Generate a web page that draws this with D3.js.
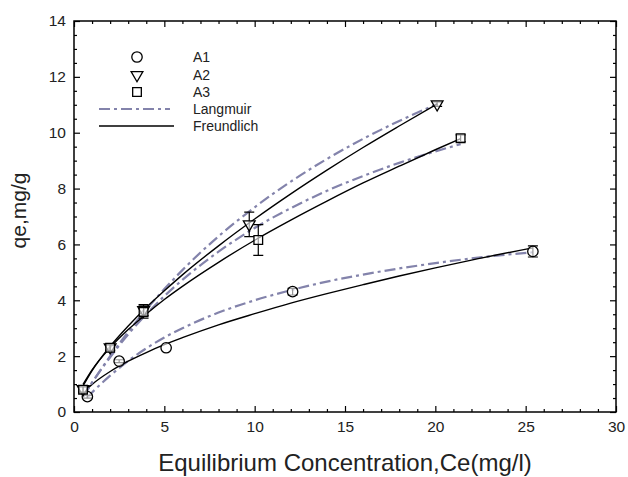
<!DOCTYPE html>
<html>
<head>
<meta charset="utf-8">
<script src="https://cdn.jsdelivr.net/npm/d3@7"></script>
<style>
  body { margin: 0; background: #fff; }
  #d3_wrapper { width: 628px; height: 477px; }
  text { font-family: "Liberation Sans", Arial, sans-serif; fill: #222; }
  .ticks text { font-size: 15.5px; }
  .ticks path.domain { display: none; }
  .ticks line { stroke: #000; stroke-width: 1.2; }
</style>
</head>
<body>
<div id="d3_wrapper"></div>
<script>
// measured points (with error bars)
const a1X = [0.74, 2.5, 5.1, 12.1, 25.4];
const a1Y = [0.55, 1.82, 2.3, 4.31, 5.75];
const a1Err = [0.05, 0.05, 0, 0.12, 0.2];

const a2X = [0.5, 2.0, 3.85, 9.7, 20.1];
const a2Y = [0.82, 2.32, 3.65, 6.72, 11.02];
const a2Err = [0.1, 0.1, 0.2, 0.44, 0.08];

const a3X = [0.5, 2.0, 3.85, 10.2, 21.4];
const a3Y = [0.8, 2.3, 3.58, 6.16, 9.8];
const a3Err = [0.1, 0.1, 0.22, 0.55, 0.12];

// fitted curves
const fitXA1 = [0.7, 1, 2, 3, 4, 5, 6, 8, 10, 12, 14, 16, 18, 20, 22, 25.4];
const langA1 = [0.5, 0.7, 1.3, 1.83, 2.28, 2.67, 3.0, 3.56, 4.0, 4.36, 4.67, 4.92, 5.14, 5.33, 5.5, 5.72];
const freuA1 = [0.82, 0.99, 1.45, 1.82, 2.13, 2.41, 2.66, 3.12, 3.52, 3.9, 4.24, 4.56, 4.87, 5.16, 5.44, 5.88];

const fitXA2 = [0.5, 1, 2, 3, 4, 5, 6, 8, 10, 12, 14, 16, 18, 20.1];
const langA2 = [0.54, 1.05, 2.0, 2.87, 3.67, 4.4, 5.08, 6.29, 7.33, 8.25, 9.06, 9.78, 10.42, 11.03];
const freuA2 = [0.93, 1.48, 2.35, 3.08, 3.74, 4.34, 4.91, 5.95, 6.91, 7.81, 8.66, 9.47, 10.24, 11.03];

const fitXA3 = [0.5, 1, 2, 3, 4, 5, 6, 8, 10, 12, 14, 16, 18, 20, 21.4];
const langA3 = [0.54, 1.05, 1.96, 2.78, 3.5, 4.15, 4.73, 5.74, 6.59, 7.3, 7.92, 8.45, 8.92, 9.33, 9.59];
const freuA3 = [0.99, 1.51, 2.3, 2.95, 3.51, 4.03, 4.5, 5.36, 6.15, 6.87, 7.55, 8.2, 8.8, 9.39, 9.79];

const xTicks = [0, 5, 10, 15, 20, 25, 30];
const yTicks = [0, 2, 4, 6, 8, 10, 12, 14];
const legendNames = ["A1", "A2", "A3", "Langmuir", "Freundlich"];

function drawGraphic() {
    const langColor = "#8383ab";
    const dashDot = "11,4,3,4";

    const margin = { top: 21, right: 12, bottom: 65, left: 74 },
        width = 628 - margin.left - margin.right,
        height = 477 - margin.top - margin.bottom;

    const svg = d3.select("#d3_wrapper").append("svg")
        .attr("width", 628)
        .attr("height", 477);

    const g = svg.append("g")
        .attr("transform", "translate(" + margin.left + "," + margin.top + ")");

    const x = d3.scaleLinear().domain([0, 30]).range([0, width]);
    const y = d3.scaleLinear().domain([0, 14]).range([height, 0]);

    const xMinor = d3.range(0, 31, 1).filter(v => v % 5 !== 0);
    const yMinor = d3.range(0, 14.01, 0.5).filter(v => v % 2 !== 0);

    // bottom + top axes
    g.append("g").attr("class", "ticks").attr("transform", "translate(0," + height + ")")
        .call(d3.axisBottom(x).tickValues(xTicks).tickSize(-6).tickPadding(9).tickFormat(d => d));
    g.append("g").attr("class", "ticks").attr("transform", "translate(0," + height + ")")
        .call(d3.axisBottom(x).tickValues(xMinor).tickSize(-3).tickFormat(""));
    g.append("g").attr("class", "ticks")
        .call(d3.axisTop(x).tickValues(xTicks).tickSize(-6).tickFormat(""));
    g.append("g").attr("class", "ticks")
        .call(d3.axisTop(x).tickValues(xMinor).tickSize(-3).tickFormat(""));

    // left + right axes
    g.append("g").attr("class", "ticks")
        .call(d3.axisLeft(y).tickValues(yTicks).tickSize(-6).tickPadding(8).tickFormat(d => d));
    g.append("g").attr("class", "ticks")
        .call(d3.axisLeft(y).tickValues(yMinor).tickSize(-3).tickFormat(""));
    g.append("g").attr("class", "ticks").attr("transform", "translate(" + width + ",0)")
        .call(d3.axisRight(y).tickValues(yTicks).tickSize(-6).tickFormat(""));
    g.append("g").attr("class", "ticks").attr("transform", "translate(" + width + ",0)")
        .call(d3.axisRight(y).tickValues(yMinor).tickSize(-3).tickFormat(""));

    // frame
    g.append("rect")
        .attr("width", width).attr("height", height)
        .attr("fill", "none").attr("stroke", "#000").attr("stroke-width", 1.5);

    // fitted lines
    const line = d3.line()
        .x(d => x(d[0]))
        .y(d => y(d[1]))
        .curve(d3.curveMonotoneX);

    const fits = [
        [fitXA1, langA1, freuA1],
        [fitXA2, langA2, freuA2],
        [fitXA3, langA3, freuA3]
    ];
    fits.forEach(([xs, lang, freu]) => {
        g.append("path")
            .attr("d", line(xs.map((v, i) => [v, lang[i]])))
            .attr("fill", "none").attr("stroke", langColor)
            .attr("stroke-width", 2.2).attr("stroke-dasharray", dashDot);
        g.append("path")
            .attr("d", line(xs.map((v, i) => [v, freu[i]])))
            .attr("fill", "none").attr("stroke", "#000")
            .attr("stroke-width", 1.4);
    });

    // markers
    const symbols = [
        d3.symbol().type(d3.symbolCircle).size(85),
        d3.symbol().type(d3.symbolTriangle).size(60),
        d3.symbol().type(d3.symbolSquare).size(75)
    ];
    const rotations = [0, 180, 0];
    const series = [[a1X, a1Y, a1Err], [a2X, a2Y, a2Err], [a3X, a3Y, a3Err]];

    series.forEach(([xs, ys, errs], s) => {
        xs.forEach((v, i) => {
            const cx = x(v), cy = y(ys[i]);
            if (errs[i] > 0) {
                const t = y(ys[i] + errs[i]), b = y(ys[i] - errs[i]);
                g.append("path")
                    .attr("d", "M" + cx + "," + t + "V" + b +
                        "M" + (cx - 5) + "," + t + "H" + (cx + 5) +
                        "M" + (cx - 5) + "," + b + "H" + (cx + 5))
                    .attr("stroke", "#000").attr("stroke-width", 1.2).attr("fill", "none");
            }
            g.append("path")
                .attr("d", symbols[s]())
                .attr("transform", "translate(" + cx + "," + cy + ") rotate(" + rotations[s] + ")")
                .attr("fill", "#fff").attr("fill-opacity", 0.6)
                .attr("stroke", "#000").attr("stroke-width", 1.3);
        });
    });

    // legend
    const legend = svg.append("g").attr("class", "legend");
    const rowY = [57, 75, 92, 109, 126];
    legendNames.forEach((name, i) => {
        if (i < 3) {
            legend.append("path")
                .attr("d", symbols[i]())
                .attr("transform", "translate(137," + rowY[i] + ") rotate(" + rotations[i] + ")")
                .attr("fill", "none").attr("stroke", "#000").attr("stroke-width", 1.3);
        } else {
            legend.append("line")
                .attr("x1", 99).attr("x2", i === 3 ? 170 : 174)
                .attr("y1", rowY[i]).attr("y2", rowY[i])
                .attr("stroke", i === 3 ? langColor : "#000")
                .attr("stroke-width", i === 3 ? 2.2 : 1.4)
                .attr("stroke-dasharray", i === 3 ? dashDot : null);
        }
        legend.append("text")
            .attr("x", 193).attr("y", rowY[i] + 5)
            .attr("font-size", 14)
            .attr("fill", "#333")
            .text(name);
    });

    // axis titles
    svg.append("text")
        .attr("transform", "translate(26," + (margin.top + height / 2 - 6) + ") rotate(-90)")
        .attr("text-anchor", "middle")
        .attr("font-size", 21)
        .text("qe,mg/g");

    svg.append("text")
        .attr("x", margin.left + width / 2)
        .attr("y", 471)
        .attr("text-anchor", "middle")
        .attr("font-size", 24)
        .text("Equilibrium Concentration,Ce(mg/l)");
}

window.addEventListener("load", drawGraphic);
</script>
</body>
</html>
